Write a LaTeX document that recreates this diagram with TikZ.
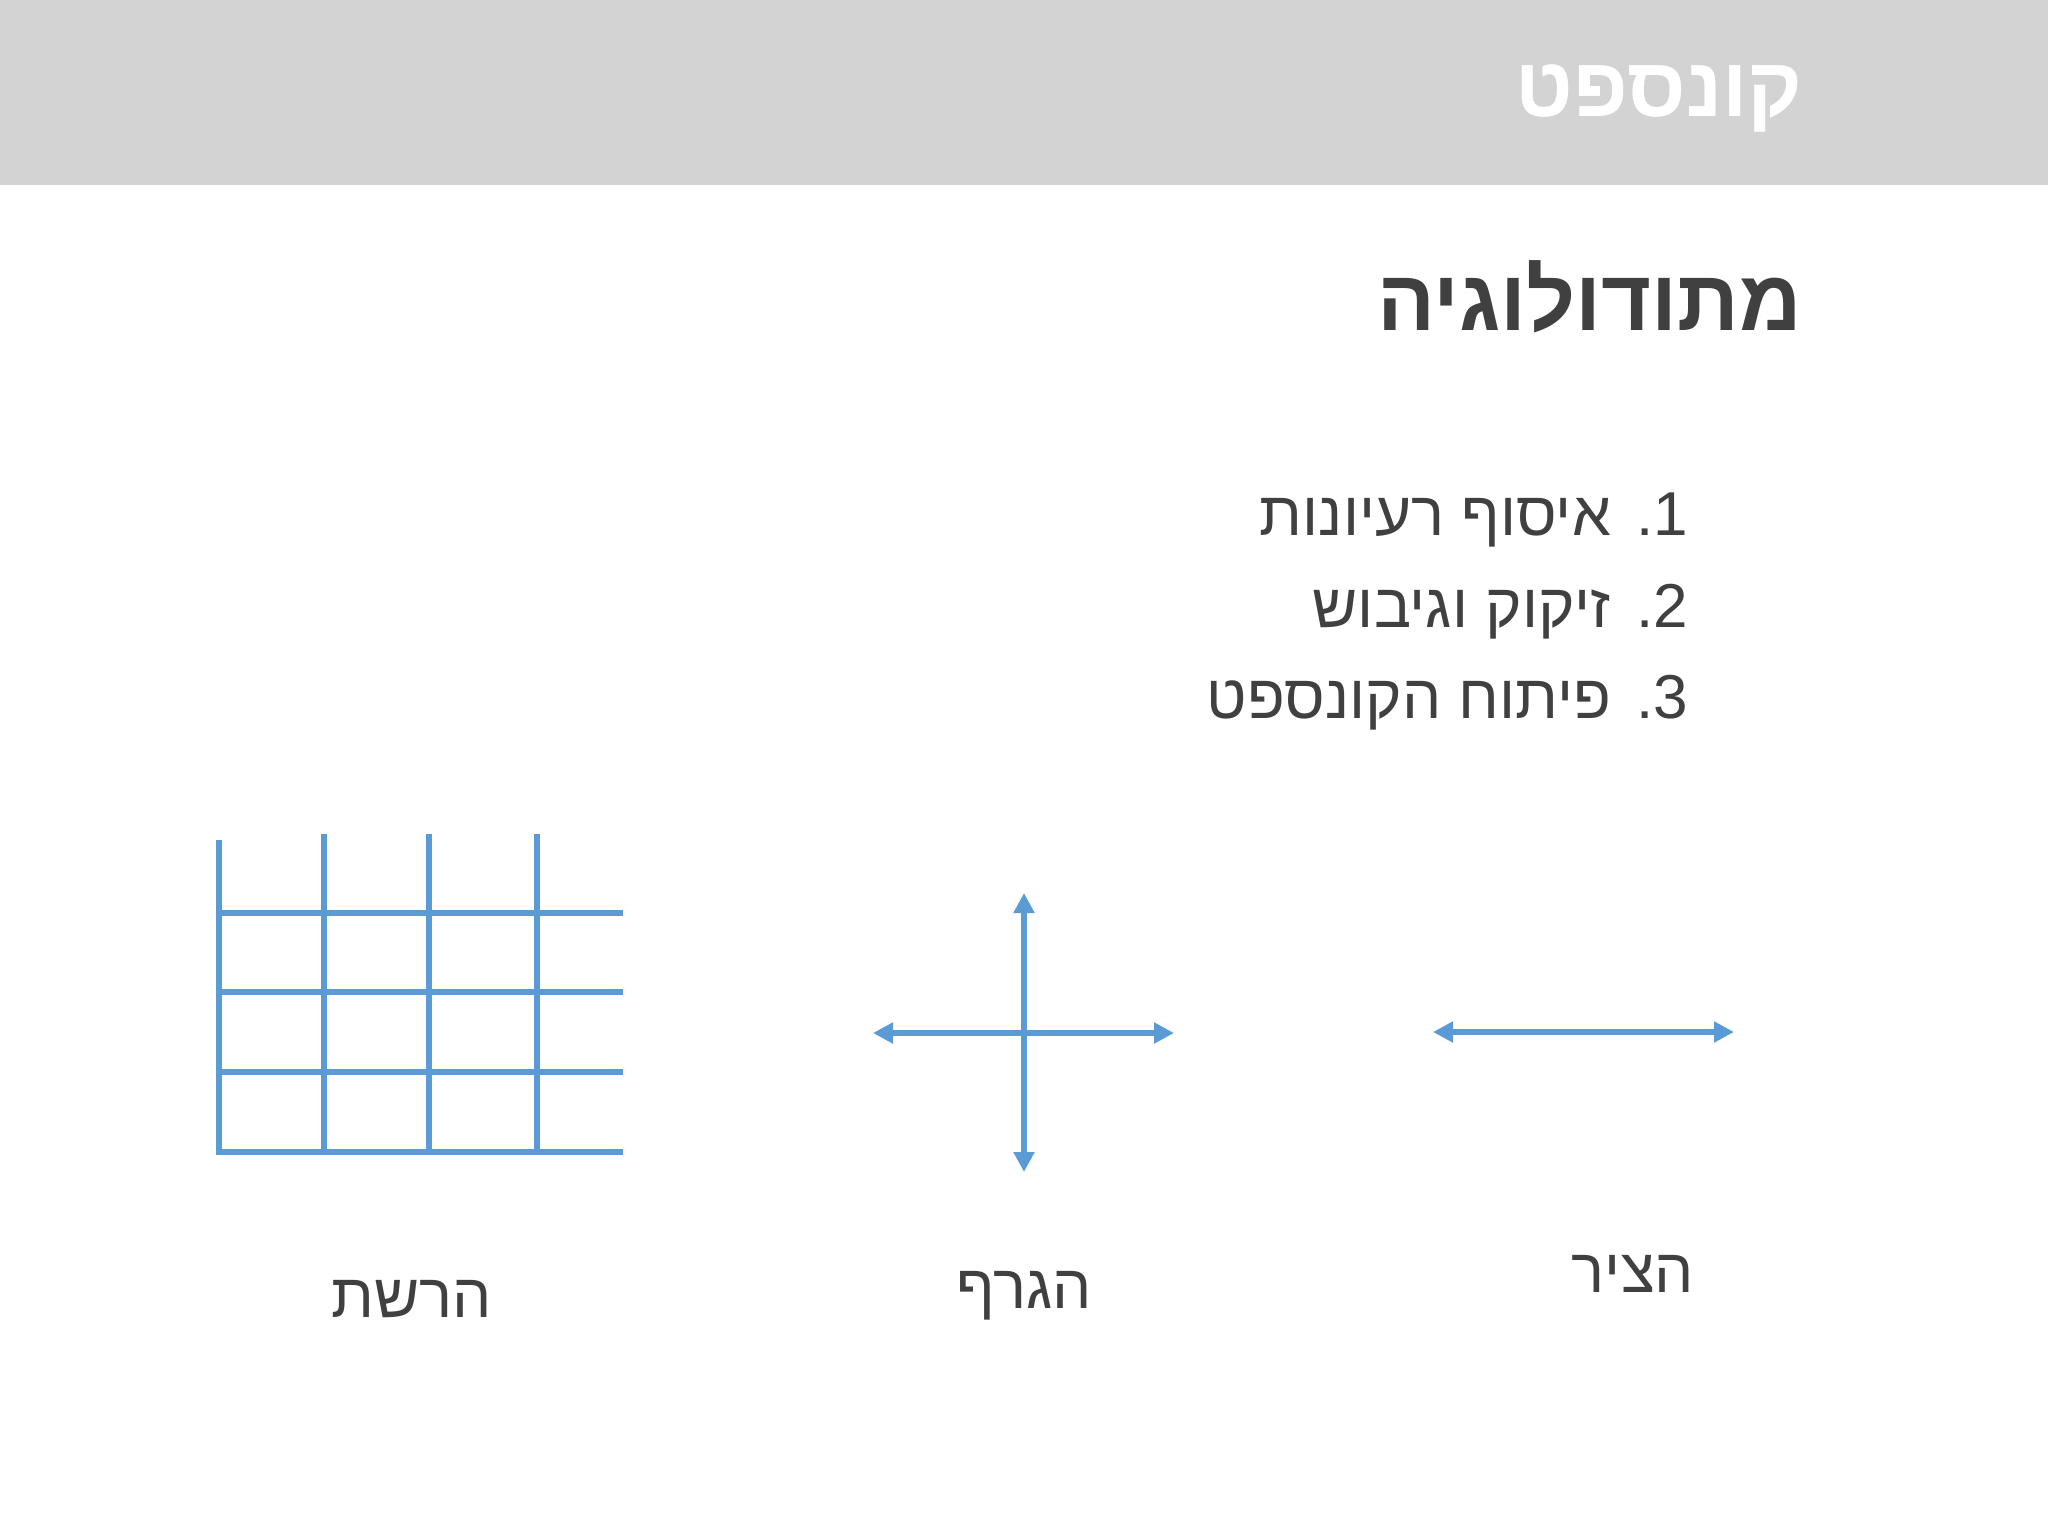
\documentclass[tikz,border=0pt]{standalone}
\usepackage{fontspec}
\usetikzlibrary{arrows.meta}
\TeXXeTstate=1
\newfontfamily\hebfont[Script=Hebrew]{Liberation Sans}
\definecolor{hdrgray}{HTML}{D3D3D3}
\definecolor{txtdark}{HTML}{404040}
\definecolor{lineblue}{HTML}{5B9BD5}
\tikzset{
  gridline/.style={draw=lineblue, line width=6pt},
  axisline/.style={draw=lineblue, line width=5.5pt,
    {Triangle[width=20pt,length=20pt]}-{Triangle[width=20pt,length=20pt]}},
  hdrtext/.style={text=white, font=\hebfont\bfseries\fontsize{84}{84}\selectfont, inner sep=0pt, anchor=base east},
  headtext/.style={text=txtdark, font=\hebfont\bfseries\fontsize{86}{86}\selectfont, inner sep=0pt, anchor=base east},
  listtext/.style={text=txtdark, font=\hebfont\fontsize{62}{62}\selectfont, inner sep=0pt, anchor=base east},
  labeltext/.style={text=txtdark, font=\hebfont\fontsize{62}{62}\selectfont, inner sep=0pt, anchor=base},
}
\begin{document}
\begin{tikzpicture}[x=1pt,y=-1pt]
\useasboundingbox (0,0) rectangle (2048,1536);
\fill[white] (0,0) rectangle (2048,1536);
% header band
\fill[hdrgray] (0,0) rectangle (2048,185);
\node[hdrtext] (hdr) at (1803,117) {\beginR קונספט\endR};
% heading
\node[headtext] (head) at (1802,330) {\beginR מתודולוגיה\endR};
% list
\node[listtext] (l1) at (1688,535) {\beginR 1\kern0pt.\kern8pt\ איסוף רעיונות\endR};
\node[listtext] (l2) at (1688,627) {\beginR 2\kern0pt.\kern8pt\ זיקוק וגיבוש\endR};
\node[listtext] (l3) at (1688,718) {\beginR 3\kern0pt.\kern8pt\ פיתוח הקונספט\endR};
% grid
\draw[gridline] (219,840) -- (219,1155);
\foreach \x in {324,429,537} \draw[gridline] (\x,834) -- (\x,1152);
\foreach \y in {913,992,1072,1152} \draw[gridline] (216,\y) -- (623,\y);
% cross
\coordinate (cT) at (1024,893);
\coordinate (cB) at (1024,1172);
\coordinate (cL) at (873,1033);
\coordinate (cR) at (1174,1033);
\draw[axisline] (cL) -- (cR);
\draw[axisline] (cB) -- (cT);
% single line
\coordinate (sL) at (1433,1032);
\coordinate (sR) at (1734,1032);
\draw[axisline] (sL) -- (sR);
% labels
\node[labeltext] (lab1) at (412,1317) {\beginR הרשת\endR};
\node[labeltext] (lab2) at (1024,1308) {\beginR הגרף\endR};
\node[labeltext] (lab3) at (1633,1292) {\beginR הציר\endR};
\end{tikzpicture}
\end{document}
